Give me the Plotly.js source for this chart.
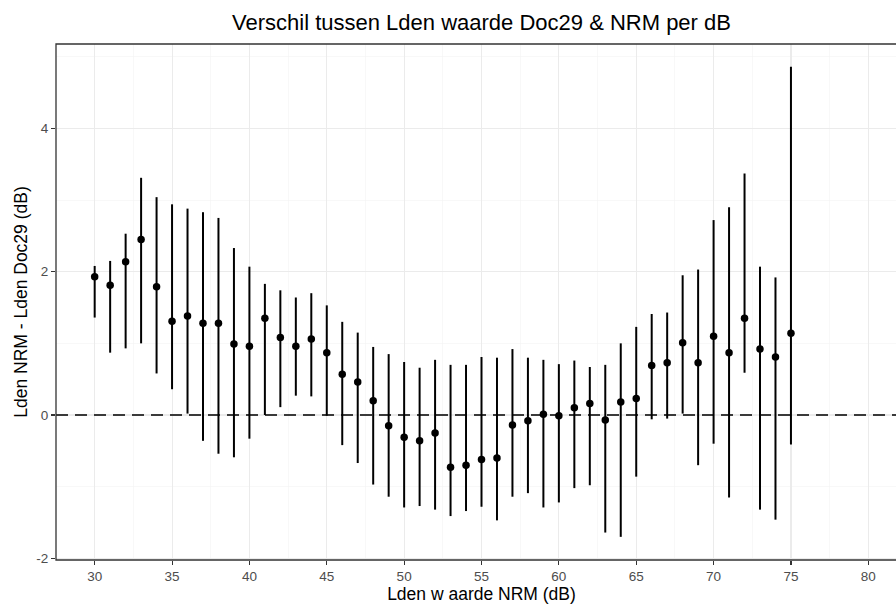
<!DOCTYPE html>
<html>
<head>
<meta charset="utf-8">
<script src="https://cdn.plot.ly/plotly-3.0.1.min.js"></script>
<style>
html, body { margin: 0; padding: 0; overflow: hidden; background: #fff; width: 896px; height: 606px; }
#chart { width: 907px; height: 606px; }
</style>
</head>
<body>
<div id="chart"></div>
<script>
// Lden NRM (dB)
const lden = [30,31,32,33,34,35,36,37,38,39,40,41,42,43,44,45,46,47,48,49,50,51,52,53,54,55,56,57,58,59,60,61,62,63,64,65,66,67,68,69,70,71,72,73,74,75];
// mean difference NRM - Doc29
const meanDiff = [1.93,1.81,2.14,2.45,1.79,1.31,1.38,1.28,1.28,0.99,0.96,1.35,1.08,0.96,1.06,0.87,0.57,0.46,0.20,-0.15,-0.31,-0.36,-0.25,-0.73,-0.70,-0.62,-0.60,-0.14,-0.08,0.01,-0.01,0.10,0.16,-0.07,0.18,0.23,0.69,0.73,1.01,0.73,1.10,0.87,1.35,0.92,0.81,1.14];
// lower end of interval
const lowerVal = [1.36,0.87,0.93,1.00,0.58,0.36,0.02,-0.36,-0.54,-0.59,-0.33,0.00,0.11,0.27,0.26,-0.01,-0.42,-0.67,-0.97,-1.14,-1.29,-1.27,-1.32,-1.41,-1.34,-1.28,-1.47,-1.14,-1.09,-1.29,-1.22,-1.02,-0.98,-1.64,-1.70,-0.86,-0.06,-0.05,0.02,-0.70,-0.40,-1.15,0.59,-1.32,-1.46,-0.41];
// upper end of interval
const upperVal = [2.08,2.15,2.53,3.31,3.04,2.94,2.88,2.83,2.75,2.33,2.07,1.83,1.74,1.64,1.70,1.53,1.30,1.15,0.95,0.85,0.74,0.66,0.77,0.70,0.70,0.81,0.80,0.92,0.80,0.77,0.71,0.76,0.67,0.70,1.00,1.23,1.41,1.43,1.95,2.03,2.72,2.90,3.37,2.07,1.92,4.86];

const xTicks = [30,35,40,45,50,55,60,65,70,75,80];
const yTicks = [-2,0,2,4];
const xRange = [27.5, 82.5];
const yRange = [-2.023, 5.177];
const refY = 0;

const errPlus = upperVal.map((u, i) => u - meanDiff[i]);
const errMinus = lowerVal.map((l, i) => meanDiff[i] - l);

const trace = {
  type: 'scatter',
  mode: 'markers',
  x: lden,
  y: meanDiff,
  marker: { color: '#000000', size: 7.5 },
  error_y: {
    type: 'data',
    symmetric: false,
    array: errPlus,
    arrayminus: errMinus,
    width: 0,
    thickness: 2,
    color: '#000000'
  },
  hoverinfo: 'x+y',
  showlegend: false
};

const fontFam = 'Liberation Sans, Arial, sans-serif';

const layout = {
  width: 907,
  height: 606,
  margin: { l: 56, r: 0, t: 44, b: 46, pad: 0 },
  paper_bgcolor: '#ffffff',
  plot_bgcolor: '#ffffff',
  font: { family: fontFam, color: '#000000' },
  title: {
    text: 'Verschil tussen Lden waarde Doc29 & NRM per dB',
    font: { family: fontFam, size: 22, color: '#000000' },
    x: 0.5, xref: 'paper', xanchor: 'center',
    y: 0.963, yref: 'container', yanchor: 'middle'
  },
  xaxis: {
    range: xRange,
    tickvals: xTicks,
    ticktext: xTicks.map(String),
    ticks: 'outside', ticklen: 4, tickwidth: 1.1, tickcolor: '#333333',
    tickfont: { family: fontFam, size: 13.5, color: '#4d4d4d' },
    showgrid: true, gridcolor: '#ebebeb', gridwidth: 1.1,
    minor: { tick0: 27.5, dtick: 5, showgrid: true, gridcolor: '#f4f4f4', gridwidth: 0.6, ticks: '' },
    zeroline: false, showline: false,
    title: { text: 'Lden w aarde NRM (dB)', font: { family: fontFam, size: 17.5, color: '#000000' }, standoff: 2 }
  },
  yaxis: {
    range: yRange,
    tickvals: yTicks,
    ticktext: yTicks.map(String),
    ticks: 'outside', ticklen: 4, tickwidth: 1.1, tickcolor: '#333333',
    tickfont: { family: fontFam, size: 13.5, color: '#4d4d4d' },
    showgrid: true, gridcolor: '#ebebeb', gridwidth: 1.1,
    minor: { tick0: -1, dtick: 2, showgrid: true, gridcolor: '#f4f4f4', gridwidth: 0.6, ticks: '' },
    zeroline: false, showline: false,
    title: { text: 'Lden NRM - Lden Doc29 (dB)', font: { family: fontFam, size: 17.5, color: '#000000' }, standoff: 4 }
  },
  shapes: [
    { type: 'line', xref: 'x', yref: 'y', x0: xRange[0], x1: xRange[1], y0: refY, y1: refY,
      line: { color: '#000000', width: 1.4, dash: '12px,7px' }, layer: 'above' },
    { type: 'rect', xref: 'paper', yref: 'paper', x0: 0, x1: 1, y0: 0, y1: 1,
      line: { color: '#333333', width: 1.3 }, fillcolor: 'rgba(0,0,0,0)', layer: 'above' }
  ]
};

Plotly.newPlot('chart', [trace], layout, { displayModeBar: false, staticPlot: true });
</script>
</body>
</html>
